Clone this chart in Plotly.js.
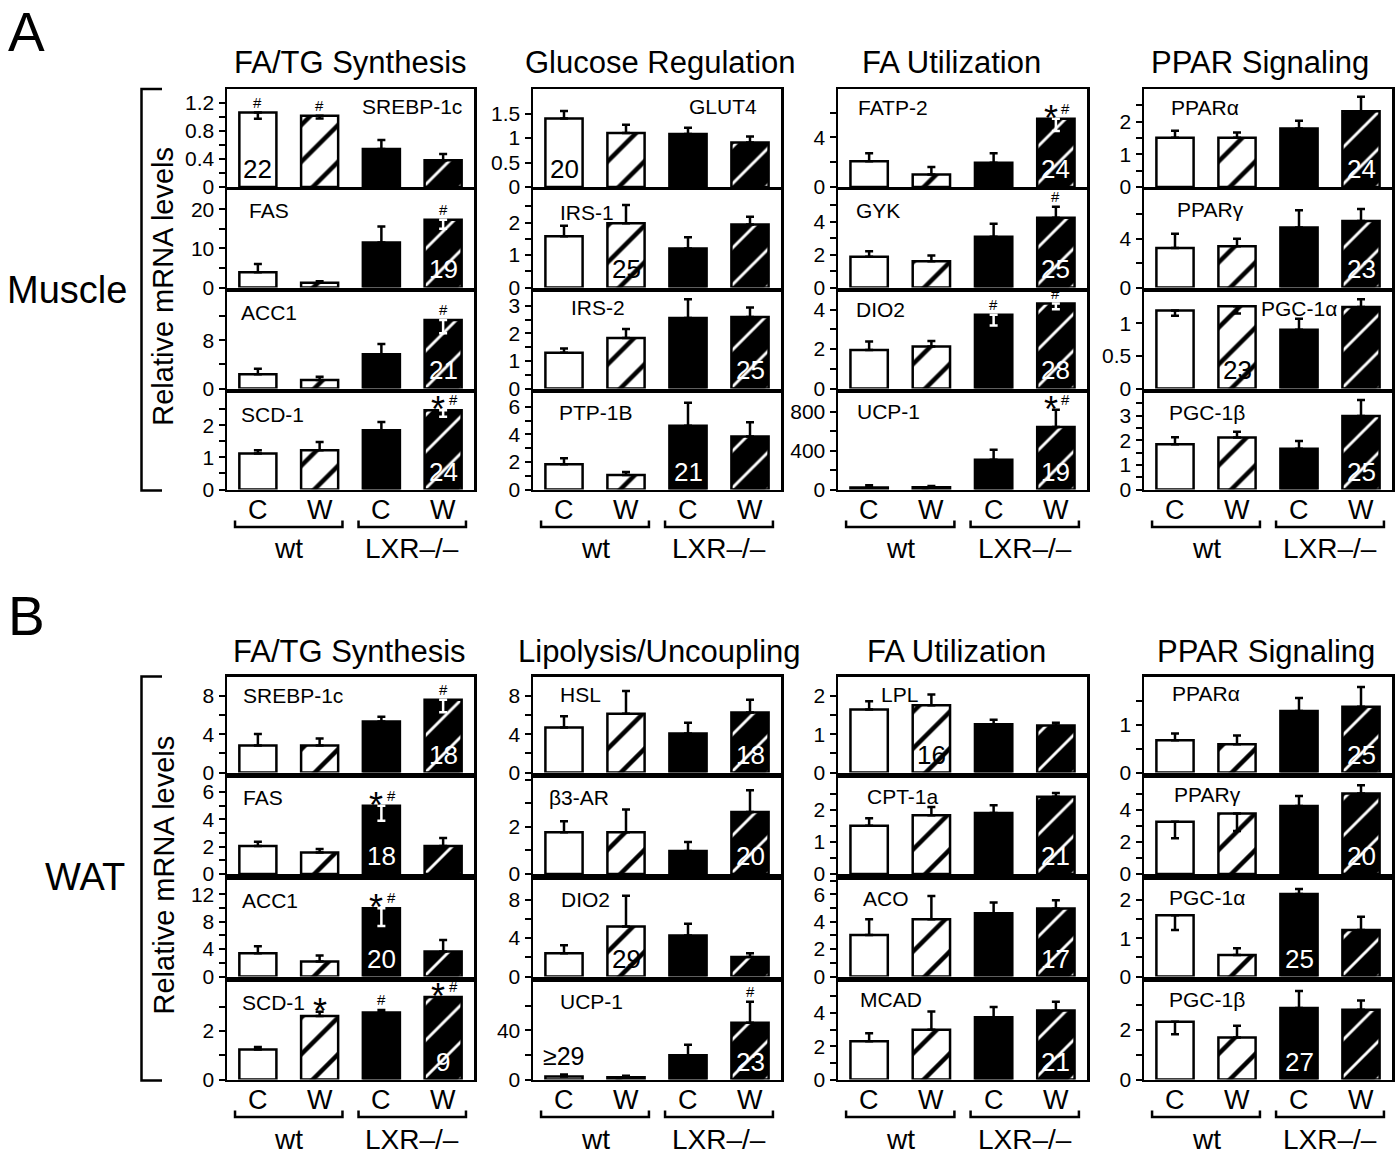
<!DOCTYPE html>
<html><head><meta charset="utf-8">
<script src="https://cdn.plot.ly/plotly-3.0.1.min.js"></script>
<style>html,body{margin:0;padding:0;background:#fff}#chart{width:1398px;height:1154px}</style>
</head><body><div id="chart"></div>
<script>
// ---------------- DATA ----------------
const groupLabels = ['C', 'W', 'C', 'W'];
const genotypeLabels = ['wt', 'LXR–/–'];
const panelLetters = ['A', 'B'];
const tissueLabels = ['Muscle', 'WAT'];
const yTitle = 'Relative mRNA levels';
const muscleTitles = ['FA/TG Synthesis', 'Glucose Regulation', 'FA Utilization', 'PPAR Signaling'];
const watTitles = ['FA/TG Synthesis', 'Lipolysis/Uncoupling', 'FA Utilization', 'PPAR Signaling'];

// Muscle (panel A); bar order: wt C, wt W, LXR-/- C, LXR-/- W
// error: positive = drawn upward, negative = drawn downward into the bar
const muscleFATG_genes = ['SREBP-1c', 'FAS', 'ACC1', 'SCD-1'];
const muscleFATG_mean = [[1.06, 1.015, 0.54, 0.38], [3.9, 1.2, 11.5, 17.3], [2.37, 1.43, 5.68, 11.36], [1.12, 1.22, 1.84, 2.46]];
const muscleFATG_err = [[-0.09, -0.04, 0.13, 0.09], [2.1, 0.4, 4.1, -2.3], [0.9, 0.5, 1.7, -2.2], [0.1, 0.26, 0.26, -0.2]];
const muscleFATG_sig = [['#', '#', '', ''], ['', '', '', '#'], ['', '', '', '#'], ['', '', '', '*#']];
const muscleFATG_n = [['22', '', '', ''], ['', '', '', '19'], ['', '', '', '21'], ['', '', '', '24']];

const muscleGluc_genes = ['GLUT4', 'IRS-1', 'IRS-2', 'PTP-1B'];
const muscleGluc_mean = [[1.40, 1.10, 1.08, 0.91], [1.58, 1.98, 1.2, 1.94], [1.3, 1.83, 2.56, 2.59], [1.83, 1.05, 4.63, 3.85]];
const muscleGluc_err = [[0.15, 0.17, 0.13, 0.12], [0.32, 0.56, 0.35, 0.24], [0.15, 0.33, 0.68, 0.35], [0.44, 0.22, 1.66, 1.02]];
const muscleGluc_sig = [['', '', '', ''], ['', '', '', ''], ['', '', '', ''], ['', '', '', '']];
const muscleGluc_n = [['20', '', '', ''], ['', '25', '', ''], ['', '', '', '25'], ['', '', '21', '']];

const muscleFAU_genes = ['FATP-2', 'GYK', 'DIO2', 'UCP-1'];
const muscleFAU_mean = [[2.08, 1.0, 1.95, 5.51], [1.87, 1.6, 3.08, 4.24], [1.95, 2.13, 3.74, 4.31], [20, 24, 305, 642]];
const muscleFAU_err = [[0.65, 0.62, 0.78, -1.0], [0.33, 0.35, 0.8, 0.67], [0.44, 0.28, -0.54, -0.28], [24, 13, 103, 175]];
const muscleFAU_sig = [['', '', '', '*#'], ['', '', '', '#'], ['', '', '#', '#'], ['', '', '', '*#']];
const muscleFAU_n = [['', '', '', '24'], ['', '', '', '25'], ['', '', '', '28'], ['', '', '', '19']];

const musclePPAR_genes = ['PPARα', 'PPARγ', 'PGC-1α', 'PGC-1β'];
const musclePPAR_mean = [[1.51, 1.51, 1.79, 2.32], [3.25, 3.39, 4.93, 5.45], [1.195, 1.26, 0.9, 1.25], [1.84, 2.11, 1.66, 2.99]];
const musclePPAR_err = [[0.21, 0.16, 0.24, 0.44], [1.16, 0.61, 1.41, 1.0], [-0.08, -0.11, 0.17, 0.12], [0.28, 0.24, 0.31, 0.65]];
const musclePPAR_sig = [['', '', '', ''], ['', '', '', ''], ['', '', '', ''], ['', '', '', '']];
const musclePPAR_n = [['', '', '', '24'], ['', '', '', '23'], ['', '23', '', ''], ['', '', '', '25']];

// WAT (panel B)
const watFATG_genes = ['SREBP-1c', 'FAS', 'ACC1', 'SCD-1'];
const watFATG_mean = [[2.82, 2.82, 5.35, 7.62], [2.04, 1.58, 4.99, 2.04], [3.4, 2.18, 9.94, 3.63], [1.24, 2.62, 2.76, 3.4]];
const watFATG_err = [[1.2, 0.73, 0.49, -1.3], [0.32, 0.24, -1.1, 0.59], [1.0, 0.87, -2.57, 1.7], [0.1, 0.17, 0.11, 0]];
const watFATG_sig = [['', '', '', '#'], ['', '', '*#', ''], ['', '', '*#', ''], ['', '*', '#', '*#']];
const watFATG_n = [['', '', '', '18'], ['', '', '18', ''], ['', '', '20', ''], ['', '', '', '9']];

const watLipo_genes = ['HSL', 'β3-AR', 'DIO2', 'UCP-1'];
const watLipo_mean = [[4.7, 6.16, 4.07, 6.29], [1.77, 1.77, 0.98, 2.63], [2.43, 5.2, 4.27, 2.02], [2.5, 1.9, 19.6, 46]];
const watLipo_err = [[1.18, 2.36, 1.15, 1.33], [0.47, 0.96, 0.38, 0.92], [0.83, 3.2, 1.22, 0.4], [1.6, 1.1, 8.6, 17]];
const watLipo_sig = [['', '', '', ''], ['', '', '', ''], ['', '', '', ''], ['', '', '', '#']];
const watLipo_n = [['', '', '', '18'], ['', '', '', '20'], ['', '29', '', ''], ['≥29', '', '', '23']];

const watFAU_genes = ['LPL', 'CPT-1a', 'ACO', 'MCAD'];
const watFAU_mean = [[1.65, 1.76, 1.26, 1.23], [1.5, 1.83, 1.9, 2.4], [3.03, 4.17, 4.61, 4.97], [2.31, 2.99, 3.75, 4.16]];
const watFAU_err = [[0.21, 0.28, 0.12, 0.07], [0.23, 0.25, 0.24, 0.12], [1.14, 1.7, 0.8, 0.6], [0.48, 1.1, 0.62, 0.52]];
const watFAU_sig = [['', '', '', ''], ['', '', '', ''], ['', '', '', ''], ['', '', '', '']];
const watFAU_n = [['', '16', '', ''], ['', '', '', '21'], ['', '', '', '17'], ['', '', '', '21']];

const watPPAR_genes = ['PPARα', 'PPARγ', 'PGC-1α', 'PGC-1β'];
const watPPAR_mean = [[0.67, 0.59, 1.28, 1.37], [3.27, 3.79, 4.25, 5.04], [1.6, 0.56, 2.15, 1.21], [2.34, 1.7, 2.9, 2.83]];
const watPPAR_err = [[0.14, 0.18, 0.27, 0.41], [-1.04, -1.1, 0.63, 0.52], [-0.39, 0.18, 0.13, 0.35], [-0.51, 0.48, 0.69, 0.37]];
const watPPAR_sig = [['', '', '', ''], ['', '', '', ''], ['', '', '', ''], ['', '', '', '']];
const watPPAR_n = [['', '', '', '25'], ['', '', '', '20'], ['', '', '25', ''], ['', '', '27', '']];

// y-axis scales: [range max, tick step, labelled ticks]
const muscleAxes = [
  [[1.395, 0.2, [0, 0.4, 0.8, 1.2]], [24.9, 5, [0, 10, 20]], [16, 4, [0, 8]], [3.0, 0.5, [0, 1, 2]]],
  [[2.0, 0.5, [0, 0.5, 1, 1.5]], [3.0, 0.5, [0, 1, 2]], [3.5, 0.5, [0, 1, 2, 3]], [7.0, 1, [0, 2, 4, 6]]],
  [[7.9, 2, [0, 4]], [5.93, 1, [0, 2, 4]], [4.9, 1, [0, 2, 4]], [990, 200, [0, 400, 800]]],
  [[3.0, 0.5, [0, 1, 2]], [8.0, 2, [0, 4]], [1.48, 0.5, [0, 0.5, 1]], [3.92, 0.5, [0, 1, 2, 3]]]
];
const watAxes = [
  [[10.05, 2, [0, 4, 8]], [7.06, 1, [0, 2, 4, 6]], [14.15, 2, [0, 4, 8, 12]], [4.04, 1, [0, 2]]],
  [[10.05, 2, [0, 4, 8]], [4.09, 1, [0, 2]], [10.1, 2, [0, 4, 8]], [79.5, 20, [0, 40]]],
  [[2.51, 0.5, [0, 1, 2]], [3.0, 0.5, [0, 1, 2]], [7.08, 1, [0, 2, 4, 6]], [5.9, 1, [0, 2, 4]]],
  [[2.0, 0.5, [0, 1]], [6.04, 1, [0, 2, 4]], [2.53, 0.5, [0, 1, 2]], [3.97, 1, [0, 2]]]
];

// ---------------- STYLE / LAYOUT ----------------
const W = 1398, H = 1154;
const FONT = 'Liberation Sans, Arial, Helvetica, sans-serif';
const colX = [[227, 474], [533, 781], [838, 1087], [1144, 1392]];
const rowY = [
  [[89, 187], [190, 287.5], [292, 388.5], [393, 489.5]],
  [[676.5, 772.5], [777.5, 874], [879.5, 976.5], [981.5, 1079.5]]
];
// gene label offsets from box top-left [dx, dy-centre]
const geneLabelPos = [
  [[[133, 17], [20, 20], [12, 21], [12, 21]], [[154, 17], [25, 22], [36, 16], [24, 19.5]],
   [[18, 19], [16, 20], [16, 18], [17, 18]], [[25, 18], [31, 19], [115, 17], [23, 19.5]]],
  [[[14, 19], [14, 20], [13, 21], [13, 21]], [[25, 18], [14, 20], [26, 20], [25, 20]],
   [[41, 18], [27, 19], [23, 19], [20, 18]], [[26, 17], [28, 17], [23, 18], [23, 18]]]
];
const titleCx = [[350, 660, 952, 1260], [349, 659, 956, 1266]];
const titleCy = [63, 651];
const cwY = [510, 1100], bracketY = [527, 1117], genoY = [548, 1139];

const panels = [
  {titles: muscleTitles, axes: muscleAxes, cols: [
    [muscleFATG_genes, muscleFATG_mean, muscleFATG_err, muscleFATG_sig, muscleFATG_n],
    [muscleGluc_genes, muscleGluc_mean, muscleGluc_err, muscleGluc_sig, muscleGluc_n],
    [muscleFAU_genes, muscleFAU_mean, muscleFAU_err, muscleFAU_sig, muscleFAU_n],
    [musclePPAR_genes, musclePPAR_mean, musclePPAR_err, musclePPAR_sig, musclePPAR_n]]},
  {titles: watTitles, axes: watAxes, cols: [
    [watFATG_genes, watFATG_mean, watFATG_err, watFATG_sig, watFATG_n],
    [watLipo_genes, watLipo_mean, watLipo_err, watLipo_sig, watLipo_n],
    [watFAU_genes, watFAU_mean, watFAU_err, watFAU_sig, watFAU_n],
    [watPPAR_genes, watPPAR_mean, watPPAR_err, watPPAR_sig, watPPAR_n]]}
];

const px = x => x / W, py = y => 1 - y / H;
const traces = [], annotations = [], shapes = [];
const layout = {
  width: W, height: H, margin: {l: 0, r: 0, t: 0, b: 0}, paper_bgcolor: '#fff', plot_bgcolor: 'rgba(0,0,0,0)',
  showlegend: false, barmode: 'overlay', font: {family: FONT, color: '#000', size: 21}
};
const fmt = v => String(Math.round(v * 1000) / 1000);
const paperText = (x, y, text, size, extra) => Object.assign({x: px(x), y: py(y), xref: 'paper', yref: 'paper',
  text: text, showarrow: false, xanchor: 'center', yanchor: 'middle', font: {size: size}}, extra || {});

panels.forEach((panel, p) => {
  panel.cols.forEach((col, c) => {
    const [genes, mean, err, sig, nlab] = col;
    for (let r = 0; r < 4; r++) {
      const idx = p * 16 + c * 4 + r + 1;
      const xn = idx === 1 ? 'x' : 'x' + idx, yn = idx === 1 ? 'y' : 'y' + idx;
      const xk = idx === 1 ? 'xaxis' : 'xaxis' + idx, yk = idx === 1 ? 'yaxis' : 'yaxis' + idx;
      const [ymax, step, labels] = panel.axes[c][r];
      const tv = [], tt = [];
      for (let i = 0; i * step <= ymax - step * 0.08; i++) {
        const v = Math.round(i * step * 1000) / 1000;
        tv.push(v);
        tt.push(labels.some(l => Math.abs(l - v) < 1e-6) ? fmt(v) : '');
      }
      layout[xk] = {domain: [px(colX[c][0]), px(colX[c][1])], range: [-0.5, 3.5], anchor: yn,
        showline: true, mirror: true, linecolor: '#000', linewidth: 2.5, ticks: '', showticklabels: false,
        showgrid: false, zeroline: false, fixedrange: true};
      layout[yk] = {domain: [py(rowY[p][r][1]), py(rowY[p][r][0])], range: [0, ymax], anchor: xn,
        showline: true, mirror: true, linecolor: '#000', linewidth: 2.5, ticks: 'outside', ticklen: 6,
        tickwidth: 2, tickcolor: '#000', tickvals: tv, ticktext: tt, tickfont: {size: 21, family: FONT},
        showgrid: false, zeroline: false, fixedrange: true};
      for (let b = 0; b < 4; b++) {
        const v = mean[r][b], e = err[r][b];
        const dark = b >= 2, hatched = b % 2 === 1;
        const marker = {color: dark ? '#000' : '#fff', line: {color: '#000', width: 2.5}};
        if (hatched) marker.pattern = {shape: '/', size: 26, solidity: dark ? 0.11 : 0.17,
          fgcolor: dark ? '#fff' : '#000', bgcolor: dark ? '#000' : '#fff', fillmode: 'replace'};
        const tr = {type: 'bar', x: [b], y: [v], xaxis: xn, yaxis: yn, width: 0.6, marker: marker, hoverinfo: 'skip'};
        if (e !== 0) tr.error_y = {type: 'data', symmetric: false, array: [e > 0 ? e : 0], arrayminus: [e < 0 ? -e : 0],
          color: (e < 0 && dark) ? '#fff' : '#000', thickness: 2.5, width: 4};
        traces.push(tr);
        const top = v + Math.max(e, 0);
        const s = sig[r][b];
        if (s.includes('*')) annotations.push({x: b, y: top, xref: xn, yref: yn, text: '*', showarrow: false,
          font: {size: 36, color: '#000'}, yanchor: 'bottom', yshift: -22, xshift: s.includes('#') ? -5 : 0});
        if (s.includes('#')) annotations.push({x: b, y: top, xref: xn, yref: yn, text: '#', showarrow: false,
          font: {size: 15, color: '#000'}, yanchor: 'bottom', yshift: 0, xshift: s.includes('*') ? 10 : 0});
        const n = nlab[r][b];
        if (n) {
          if (n.startsWith('≥')) annotations.push({x: b, y: top, xref: xn, yref: yn, text: n, showarrow: false,
            font: {size: 25, color: '#000'}, yanchor: 'bottom', yshift: 2});
          else annotations.push({x: b, y: 0, xref: xn, yref: yn, text: n, showarrow: false,
            font: {size: 26, color: dark ? '#fff' : '#000'}, yanchor: 'bottom', yshift: 1});
        }
      }
      // gene label
      const gp = geneLabelPos[p][c][r];
      annotations.push(paperText(colX[c][0] + gp[0], rowY[p][r][0] + gp[1], genes[r], 21, {xanchor: 'left'}));
      if (r === 3) {
        groupLabels.forEach((g, b) => annotations.push({x: b, y: py(cwY[p]), xref: xn, yref: 'paper', text: g,
          showarrow: false, xanchor: 'center', yanchor: 'middle', font: {size: 27}}));
        genotypeLabels.forEach((g, j) => {
          const x0 = j * 2 - 0.37, x1 = j * 2 + 1.37, yb = py(bracketY[p]), yt = py(bracketY[p] - 6.5);
          shapes.push({type: 'path', xref: xn, yref: 'paper',
            path: `M${x0},${yt} L${x0},${yb} L${x1},${yb} L${x1},${yt}`, line: {color: '#000', width: 2.5}});
          annotations.push({x: j * 2 + 0.5, y: py(genoY[p]), xref: xn, yref: 'paper', text: g, showarrow: false,
            xanchor: 'center', yanchor: 'middle', font: {size: 28}});
        });
      }
    }
    annotations.push(paperText(titleCx[p][c], titleCy[p], panel.titles[c], 31));
  });
  const top = rowY[p][0][0], bot = rowY[p][3][1] + 1;
  shapes.push({type: 'path', xref: 'paper', yref: 'paper',
    path: `M${px(162)},${py(top)} L${px(141.5)},${py(top)} L${px(141.5)},${py(bot)} L${px(162)},${py(bot)}`,
    line: {color: '#000', width: 2.5}});
  annotations.push(paperText(163, (top + bot) / 2 - 3, yTitle, 29, {textangle: -90}));
  annotations.push(p === 0 ? paperText(26, 0, panelLetters[p], 55, {yanchor: 'top', borderpad: 0})
                           : paperText(26, 616, panelLetters[p], 55));
  annotations.push(paperText([67, 85][p], [290, 877][p], tissueLabels[p], 38));
});
layout.annotations = annotations;
layout.shapes = shapes;
Plotly.newPlot('chart', traces, layout, {staticPlot: true});
</script></body></html>
